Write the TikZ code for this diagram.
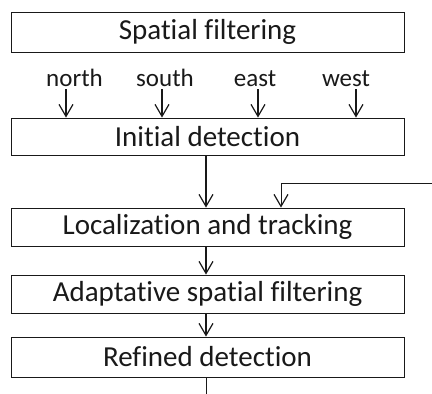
\documentclass[tikz,border=0pt]{standalone}
\usepackage{fontspec}
\setmainfont[RawFeature={-liga;-clig}]{Carlito}
\usetikzlibrary{arrows.meta}
\begin{document}
\begin{tikzpicture}[x=1pt,y=-1pt,
  box/.style={draw=black!90, line width=0.9pt, minimum width=393pt, inner sep=0pt, font=\fontsize{29}{30}\selectfont, text=black!90},
  lab/.style={font=\fontsize{25}{26}\selectfont, text=black!90, inner sep=0pt, anchor=base},
  arr/.style={draw=black!90, line width=1.2pt, -{Straight Barb[length=12pt,width=14pt,line width=1.2pt]}},
  ln/.style={draw=black!90, line width=1pt}]
\useasboundingbox (0,0) rectangle (432,394);
\node[box, minimum height=40pt] (b1) at (207.5,32) {Spatial filtering};
\node[box, minimum height=37pt] (b2) at (207.5,136.5) {Initial detection};
\node[box, minimum height=38pt] (b3) at (207.5,227) {Localization and tracking};
\node[box, minimum height=38pt] (b4) at (207.5,294) {Adaptative spatial filtering};
\node[box, minimum height=40pt] (b5) at (207.5,357) {Refined detection};
\node[lab] (ln1) at (74.5,86) {north};
\node[lab] (ln2) at (165,86) {south};
\node[lab] (ln3) at (255,86) {east};
\node[lab] (ln4) at (346,86) {west};
\coordinate (s1) at (66,89);
\coordinate (s2) at (162,89);
\coordinate (s3) at (258,89);
\coordinate (s4) at (356,89);
\foreach \i in {1,...,4} {\draw[arr] (s\i) -- (s\i |- b2.north);}
\coordinate (c) at (206,0);
\draw[arr] (c |- b2.south) -- (c |- b3.north);
\draw[arr] (c |- b3.south) -- (c |- b4.north);
\draw[arr] (c |- b4.south) -- (c |- b5.north);
\coordinate (fbin) at (432,183);
\coordinate (fbk) at (281,183);
\draw[arr, line width=1pt] (fbin) -- (fbk) -- (fbk |- b3.north);
\coordinate (out) at (206,394);
\draw[ln] (c |- b5.south) -- (out);
\end{tikzpicture}
\end{document}
